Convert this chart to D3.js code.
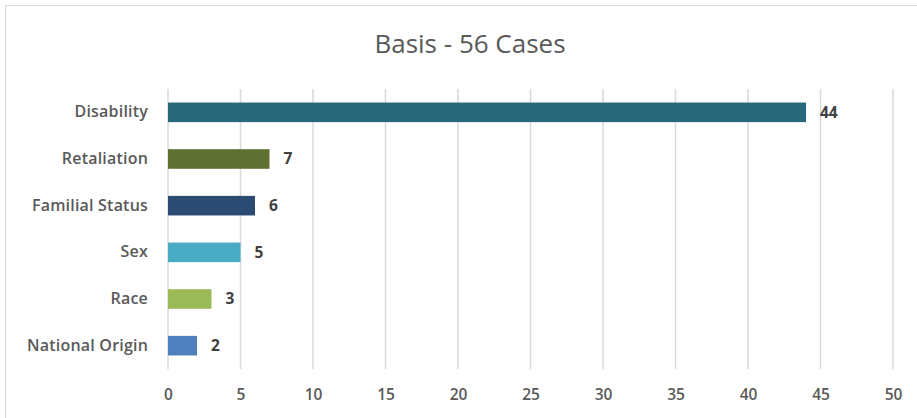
<!DOCTYPE html>
<html><head><meta charset="utf-8">
<script src="https://cdn.jsdelivr.net/npm/d3@7"></script>
<style>
body{margin:0;background:#fff;}
text{font-family:"Open Sans","Noto Sans",sans-serif;}
</style></head>
<body><svg id="c" width="917" height="418"></svg>
<script>
const categories = ["Disability","Retaliation","Familial Status","Sex","Race","National Origin"];
const values = [44,7,6,5,3,2];
const colors = ["#27687a","#5f7132","#2c4b73","#4aabc5","#9aba58","#4f80bd"];
const ticks = [0,5,10,15,20,25,30,35,40,45,50];
const title = "Basis - 56 Cases";

const svg = d3.select("#c");
svg.append("rect").attr("x",5.5).attr("y",5.5).attr("width",930).attr("height",430)
  .attr("fill","#fff").attr("stroke","#d9d9d9");

const x = d3.scaleLinear().domain([0,50]).range([168,893]);
const y = d3.scaleBand().domain(categories).range([89,369]).paddingInner(0.58).paddingOuter(0.29);

svg.append("text").attr("x",470).attr("y",53).attr("text-anchor","middle")
  .attr("font-size",26).attr("fill","#595959").text(title);

const g = svg.append("g");
g.selectAll("line.grid").data(ticks).join("line").attr("class","grid")
  .attr("x1",d=>x(d)).attr("x2",d=>x(d)).attr("y1",89).attr("y2",369)
  .attr("stroke","#d9d9d9").attr("stroke-width",1.5);

const xAxis = d3.axisBottom(x).tickValues(ticks).tickSize(0).tickPadding(0);
const ax = svg.append("g").attr("transform","translate(0,395)").call(xAxis);
ax.select(".domain").remove();
ax.selectAll("text").attr("font-size",15.5).attr("font-weight",600).attr("fill","#595959").attr("dy","0.35em").attr("font-family","'Open Sans',sans-serif");

const yAxis = d3.axisLeft(y).tickSize(0).tickPadding(0);
const ay = svg.append("g").attr("transform","translate(148,0)").call(yAxis);
ay.select(".domain").remove();
ay.selectAll("text").attr("font-size",16).attr("font-weight",600).attr("fill","#595959")
  .attr("letter-spacing","0.2px").attr("font-family","'Open Sans',sans-serif");

svg.selectAll("rect.bar").data(values).join("rect").attr("class","bar")
  .attr("x",x(0)).attr("y",(d,i)=>y(categories[i]))
  .attr("width",d=>x(d)-x(0)).attr("height",y.bandwidth())
  .attr("fill",(d,i)=>colors[i]);

svg.selectAll("text.val").data(values).join("text").attr("class","val")
  .attr("x",d=>x(d)+14).attr("y",(d,i)=>y(categories[i])+y.bandwidth()/2)
  .attr("dy","0.35em").attr("font-size",15.5).attr("font-weight",700).attr("fill","#404040")
  .text(d=>d);
</script></body></html>
